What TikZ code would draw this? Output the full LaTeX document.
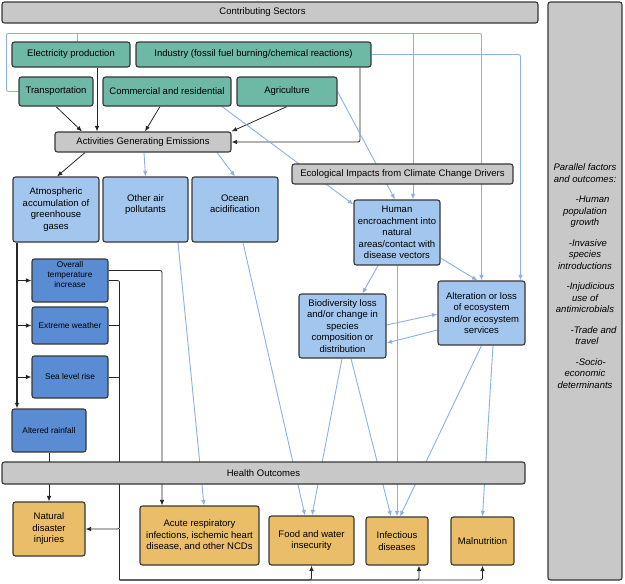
\documentclass[tikz,border=0pt]{standalone}
\usepackage{fontspec}
\setmainfont{Liberation Sans}
\usepackage{tikz}
\usetikzlibrary{arrows.meta, positioning, backgrounds}
\tikzset{>={Latex[width=4.5pt,length=5.5pt]}}
\definecolor{sectorgreen}{RGB}{110,184,166}
\definecolor{bandgray}{RGB}{200,200,200}
\definecolor{stageblue}{RGB}{162,198,238}
\definecolor{effectblue}{RGB}{90,140,212}
\definecolor{outcometan}{RGB}{234,190,104}
\definecolor{linkblue}{RGB}{140,176,226}
\definecolor{boxedge}{RGB}{55,55,55}
\newcommand{\boxfont}{\fontsize{9.5}{11.5}\selectfont}
\newcommand{\smallboxfont}{\fontsize{8.3}{10}\selectfont}
\tikzset{
  card/.style = {draw=boxedge, line width=1.1pt, rounded corners=2.5pt, align=center, inner sep=2pt, font=\boxfont},
  sector/.style = {card, fill=sectorgreen},
  band/.style = {card, fill=bandgray},
  stage/.style = {card, fill=stageblue},
  effect/.style = {card, fill=effectblue, font=\smallboxfont},
  outcome/.style = {card, fill=outcometan},
  link/.style = {->, black!85, line width=0.8pt, rounded corners=2pt},
  blink/.style = {->, linkblue, line width=0.9pt, rounded corners=2pt}
}

\begin{document}
\begin{tikzpicture}[x=1pt, y=-1pt]
		\useasboundingbox (0,0) rectangle (625,584);
		% sectors
		\node (sect) [band, minimum width=536, minimum height=21] at (270,12.5) {Contributing Sectors\hspace*{15pt}};
		\node (elec) [sector, minimum width=118, minimum height=25] at (71,54.5) {Electricity production};
		\node (ind) [sector, minimum width=235, minimum height=25] at (253.5,54.5) {Industry (fossil fuel burning/chemical reactions)};
		\node (trans) [sector, minimum width=74, minimum height=29] at (56,91.5) {Transportation};
		\node (comm) [sector, minimum width=128, minimum height=29] at (167,91.5) {Commercial and residential};
		\node (agri) [sector, minimum width=100, minimum height=29] at (287,91.5) {Agriculture};
		\node (act) [band, minimum width=176, minimum height=20] at (143,142) {Activities Generating Emissions};
		\node (eco) [band, minimum width=221, minimum height=20] at (402.5,174) {Ecological Impacts from Climate Change Drivers};
		% drivers
		\node (atm) [stage, minimum width=86, minimum height=65] at (56,209.5) {Atmospheric\\accumulation of\\greenhouse\\gases};
		\node (oth) [stage, minimum width=85, minimum height=65] at (145.5,209.5) {Other air\\pollutants\\~};
		\node (ocn) [stage, minimum width=86, minimum height=65] at (235,209.5) {Ocean\\acidification\\~};
		\node (hum) [stage, minimum width=86, minimum height=65] at (397,232.5) {Human\\encroachment into\\natural\\areas/contact with\\disease vectors};
		\node (bio) [stage, minimum width=87, minimum height=64] at (342.5,326) {Biodiversity loss\\and/or change in\\species\\composition or\\distribution};
		\node (alt) [stage, minimum width=87, minimum height=64] at (481.5,313) {Alteration or loss\\of ecosystem\\and/or ecosystem\\services};
		\node (tmp) [effect, minimum width=76, minimum height=43] at (70,280.5) {Overall\\temperature\\increase\\[2pt]};
		\node (ext) [effect, minimum width=76, minimum height=37] at (70,325.5) {Extreme weather};
		\node (sea) [effect, minimum width=76, minimum height=42] at (70,377) {Sea level rise};
		\node (rain) [effect, minimum width=74, minimum height=43] at (49,430.5) {Altered rainfall};
		% outcomes
		\node (hlt) [band, minimum width=523, minimum height=22] at (263.5,473) {Health Outcomes};
		\node (nat) [outcome, minimum width=72, minimum height=54] at (49,529) {Natural\\disaster\\injuries};
		\node (acu) [outcome, minimum width=119, minimum height=59] at (199.5,535.5) {Acute respiratory\\infections, ischemic heart\\disease, and other NCDs};
		\node (food) [outcome, minimum width=85, minimum height=49] at (311.5,540.5) {Food and water\\insecurity};
		\node (inf) [outcome, minimum width=62, minimum height=48] at (397,541) {Infectious\\diseases};
		\node (mal) [outcome, minimum width=63, minimum height=48] at (482.5,541) {Malnutrition};
		% side panel
		\node (par) [band, minimum width=74, minimum height=578] at (585,291) {};
		\node (partext) [align=center, font=\boxfont\itshape] at (585,276) {Parallel factors\\and outcomes:\\[9pt]\hspace*{1.6em}-Human\\population\\growth\\[9pt]\hspace*{0.6em}-Invasive\\species\\introductions\\[9pt]\hspace*{1.2em}-Injudicious\\use of\\antimicrobials\\[9pt]\hspace*{1.8em}-Trade and\\\hspace*{0.4em}travel\\[9pt]\hspace*{1.2em}-Socio-\\economic\\determinants};

		\coordinate (trunk) at ([xshift=-39]atm.south);
		\coordinate (bus) at ([xshift=34]nat.east);
		\coordinate (low) at ([yshift=-51]bus);
		\coordinate (top) at ([yshift=8]elec.north);
		\coordinate (ebr) at ([xshift=6]elec.north);
		\coordinate (hbr) at ([xshift=16]hum.north);
		\coordinate (abr) at ([xshift=39]alt.north);

		\begin{scope}[on background layer]
		\path[link]
		(trans.south) edge ([xshift=-61]act.north)
		([xshift=26]elec.south) edge ([xshift=-46]act.north)
		([xshift=-7]comm.south) edge ([xshift=2]act.north)
		(agri.south) edge (act.north east)
		([xshift=-58]act.south) edge ([xshift=1]atm.north)
		(rain.south) edge (nat.north)
		(trunk |- tmp.west) edge (tmp.west)
		(trunk |- ext.west) edge (ext.west)
		(trunk |- sea.west) edge (sea.west);
		\draw[link] ([xshift=106.5]ind.south) |- (act.east);
		\draw[link, line width=1.4pt] (trunk) -- ([xshift=-32]rain.north);
		\draw[link] ([yshift=10]tmp.east) -| ([xshift=-37.5]acu.north);
		\draw[link] (tmp.east) -| (bus) -- (nat.east);
		\draw[link, -] (ext.east) -- (ext.east -| bus) (sea.east) -- (sea.east -| bus);
		\draw[link, -] (bus) -- (low);
		\draw[link] (low) -| (food.south);
		\draw[link] (low) -| ([xshift=22]inf.south);
		\draw[link] (low) -| (mal.south);

		\draw[blink] (trans.west) -- ++(-12,0) |- (alt.north |- top) -- (alt.north);
		\draw[blink, -] (ebr) -- (ebr |- top);
		\draw[blink] (hbr |- top) -- (hbr);
		\draw[blink] (ind.east) -| (abr);
		\path[blink]
		([xshift=1]act.south) edge (oth.north)
		([xshift=74]act.south) edge (ocn.north)
		([xshift=55]comm.south) edge ([yshift=-5]hum.north west)
		(agri.east) edge ([xshift=-2]hum.north)
		([yshift=-25.5]hum.east) edge ([xshift=-4]alt.north)
		([xshift=-19]hum.south) edge ([xshift=20]bio.north)
		([yshift=1]bio.east) edge ([yshift=-1]alt.west)
		([yshift=-17]alt.west) edge ([yshift=-17]bio.east)
		(hum.south) edge (inf.north)
		([xshift=-0.5]bio.south) edge ([xshift=0.5]food.north)
		([xshift=8.5]bio.south) edge ([xshift=-6]inf.north)
		([xshift=8]ocn.south) edge ([xshift=-6.5]food.north)
		([xshift=32.5]oth.south) edge ([xshift=4.5]acu.north)
		(alt.south) edge ([xshift=3]inf.north)
		([xshift=11.5]alt.south) edge (mal.north);
		\end{scope}
\end{tikzpicture}
\end{document}
